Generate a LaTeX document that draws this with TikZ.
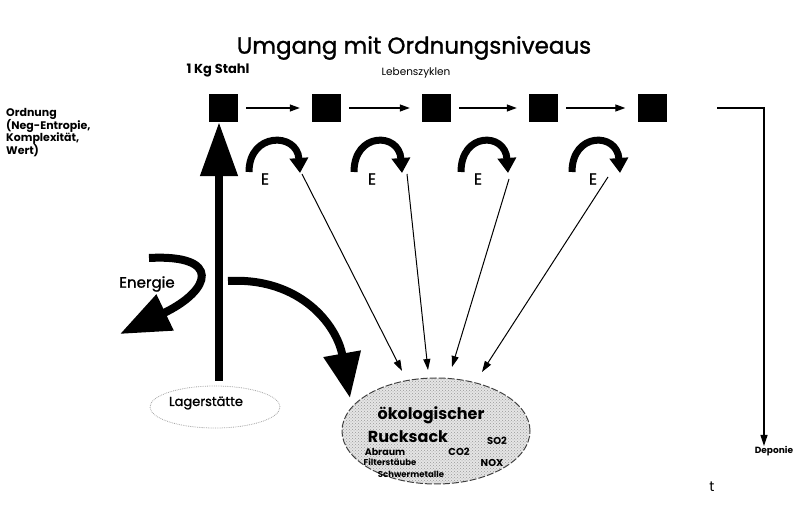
\documentclass[tikz,border=0pt]{standalone}
\usepackage{fontspec}
\setmainfont{Poppins}
\newfontfamily\popthick[FakeBold=1.2]{Poppins}
\usetikzlibrary{arrows.meta,shapes.geometric,patterns}
\newcommand{\fs}[1]{\fontsize{#1}{#1}\selectfont}
\begin{document}
\begin{tikzpicture}[x=1pt,y=-1pt,
  sq/.style={fill=black,minimum width=29pt,minimum height=28pt,inner sep=0pt},
  seqarr/.style={-{Triangle[length=10pt,width=7pt]},line width=1.3pt,shorten <=8pt,shorten >=12pt},
  wastearr/.style={-{Triangle[length=11pt,width=7pt]},line width=1pt},
  earc/.style={line width=7pt,-{Triangle[length=15pt,width=18pt]}},
  fat/.style={line width=8pt},
  lbl/.style={inner sep=0pt,anchor=center}
]
\useasboundingbox (0,0) rectangle (796,521);

% title
\node[lbl] (title) at (414,48) {\popthick\fs{23}Umgang mit Ordnungsniveaus};

% left label
\node[inner sep=0pt,anchor=north west,align=left,font=\bfseries\fs{11}] (ord) at (6,108)
  {Ordnung\\[-1pt](Neg-Entropie,\\[-1pt]Komplexität,\\[-1pt]Wert)};

\node[lbl,font=\bfseries\fs{13}] (stahl) at (218,70) {1 Kg Stahl};
\node[lbl,font=\fs{10.5}] (leben) at (416,73) {Lebenszyklen};

% squares
\node[sq] (s1) at (223.5,108) {};
\node[sq] (s2) at (326.5,108) {};
\node[sq] (s3) at (436.5,108) {};
\node[sq] (s4) at (543.5,108) {};
\node[sq] (s5) at (652,108) {};

\draw[seqarr] (s1) -- (s2);
\draw[seqarr] (s2) -- (s3);
\draw[seqarr] (s3) -- (s4);
\draw[seqarr] (s4) -- (s5);

% Deponie
\node[lbl,font=\bfseries\fs{9}] (dep) at (774,451) {Deponie};
\coordinate (dstart) at (717,108);
\coordinate (dcorner) at (764,108);
\draw[line width=1.2pt,-{Triangle[length=11pt,width=7pt]}] (dstart) -- (dcorner) -- (dcorner |- dep.north);

% E arcs
\foreach \i/\l/\r in {1/249/300,2/354/402,3/461/508,4/572/620}{
  \draw[earc] (\l,172) .. controls (\l,132) and (\r-3,132) .. (\r,173);
}
\node[lbl,font=\popthick\fs{16}] (e1) at (265,179) {E};
\node[lbl,font=\popthick\fs{16}] (e2) at (372,179) {E};
\node[lbl,font=\popthick\fs{16}] (e3) at (478,179) {E};
\node[lbl,font=\popthick\fs{16}] (e4) at (593,179) {E};

% ecological rucksack
\node[ellipse,minimum width=188pt,minimum height=106pt,draw=black!75,line width=1pt,
      dash pattern=on 7pt off 2pt,fill=black!10] (ruck) at (436,431) {};
\path[pattern=crosshatch dots,pattern color=black!40] (ruck.center) ellipse [x radius=93, y radius=52];
\node[lbl,font=\bfseries\fs{16}] (oek) at (431,415) {ökologischer};
\node[lbl,font=\bfseries\fs{16}] (rs) at (408,437) {Rucksack};
\node[lbl,font=\bfseries\fs{10}] (so2) at (497,441) {SO2};
\node[lbl,font=\bfseries\fs{9.5}] (abr) at (385,452) {Abraum};
\node[lbl,font=\bfseries\fs{10}] (co2) at (459,452) {CO2};
\node[lbl,font=\bfseries\fs{8.5}] (filt) at (390,462) {Filterstäube};
\node[lbl,font=\bfseries\fs{10}] (nox) at (492,463) {NOX};
\node[lbl,font=\bfseries\fs{8.5}] (schw) at (411,474) {Schwermetalle};

% thin arrows to rucksack
\coordinate (t1) at (302,174);
\coordinate (t2) at (407,174);
\coordinate (t3) at (509,179);
\coordinate (t4) at (608,177);
\coordinate (r1) at (402,371);
\coordinate (r2) at (428,370);
\coordinate (r3) at (452,367);
\coordinate (r4) at (482,372);
\draw[wastearr] (t1) -- (r1);
\draw[wastearr] (t2) -- (r2);
\draw[wastearr] (t3) -- (r3);
\draw[wastearr] (t4) -- (r4);

% Lagerstaette
\node[ellipse,minimum width=130pt,minimum height=42pt,draw=black!35,densely dotted,line width=0.8pt] (lager) at (215,407) {};
\node[lbl,font=\popthick\fs{13}] (lagertxt) at (206,403) {Lagerstätte};

% big vertical arrow
\coordinate (vstart) at (219,381);
\draw[fat,-{Triangle[length=54pt,width=36pt]}] (vstart) -- (s1.south -| vstart);

% Energie
\node[lbl,font=\popthick\fs{15}] (energie) at (147,284) {Energie};
\coordinate (en1) at (149,258);
\coordinate (en2) at (120,334);
\draw[fat,-{Triangle[length=50pt,width=38pt]}] (en1) .. controls (222,254) and (212,290) .. (en2);

% to rucksack
\coordinate (rk1) at (228,281);
\coordinate (rk2) at (350,398);
\draw[fat,-{Triangle[length=45pt,width=36pt]}] (rk1) .. controls (300,277) and (337,325) .. (rk2);

\node[lbl,font=\fs{14}] (t) at (712,487) {t};
\end{tikzpicture}
\end{document}
